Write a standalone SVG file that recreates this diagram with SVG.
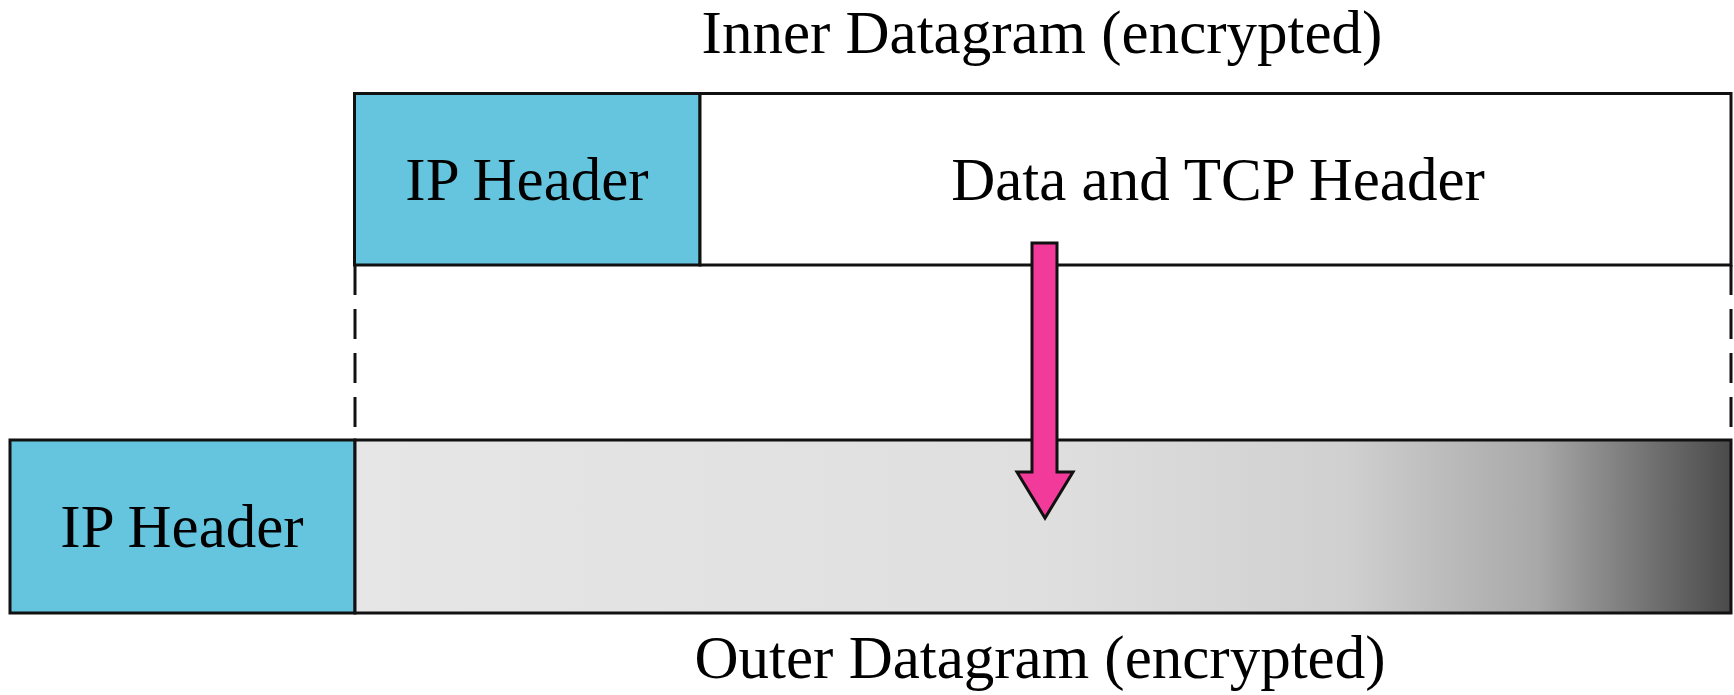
<svg xmlns="http://www.w3.org/2000/svg" width="1734" height="695" viewBox="0 0 1734 695">
<style>
.box{stroke:#111;stroke-width:3}
.hdr{fill:#66c5de}
.lbl{font-family:"Liberation Serif","Times New Roman",serif;font-size:61px;fill:#000;text-anchor:middle}
.dash{stroke:#111;stroke-width:3;stroke-dasharray:30 14;fill:none}
</style>
<defs>
<linearGradient id="fade" x1="0" y1="0" x2="1" y2="0">
<stop offset="0" stop-color="#e6e6e6"/>
<stop offset="0.5" stop-color="#dfdfdf"/>
<stop offset="0.72" stop-color="#d0d0d0"/>
<stop offset="0.86" stop-color="#a8a8a8"/>
<stop offset="1" stop-color="#4a4a4a"/>
</linearGradient>
</defs>
<rect width="1734" height="695" fill="#fff"/>
<text class="lbl" x="1042" y="53">Inner Datagram (encrypted)</text>
<text class="lbl" x="1040" y="678">Outer Datagram (encrypted)</text>
<g id="inner-ip-header">
<rect class="box hdr" x="354.5" y="93.5" width="345.5" height="171.5"/>
<text class="lbl" x="527" y="200">IP Header</text>
</g>
<g id="inner-data">
<rect class="box" fill="#fff" x="700" y="93.5" width="1031" height="171.5"/>
<text class="lbl" x="1218" y="200">Data and TCP Header</text>
</g>
<g id="outer-ip-header">
<rect class="box hdr" x="10" y="440" width="345" height="173"/>
<text class="lbl" x="182" y="547">IP Header</text>
</g>
<g id="outer-data">
<rect class="box" fill="url(#fade)" x="355" y="440" width="1376" height="173"/>
</g>
<g id="connectors">
<line class="dash" x1="355" y1="265" x2="355" y2="440"/>
<line class="dash" x1="1731" y1="265" x2="1731" y2="440"/>
<polygon points="1032,243 1057,243 1057,472 1073,472 1045,518 1017,472 1032,472" fill="#f23a9a" stroke="#111" stroke-width="3" stroke-linejoin="miter"/>
</g>
</svg>
